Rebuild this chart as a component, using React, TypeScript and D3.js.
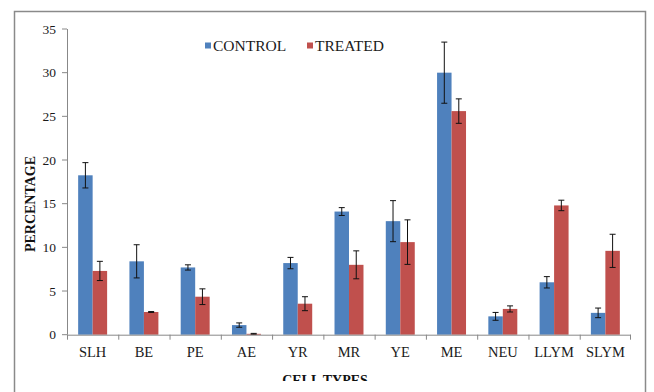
import React from "react";
import * as d3 from "d3";

const categories = ["SLH", "BE", "PE", "AE", "YR", "MR", "YE", "ME", "NEU", "LLYM", "SLYM"];
const seriesNames = ["CONTROL", "TREATED"];
const controlValues = [18.25, 8.4, 7.7, 1.1, 8.2, 14.1, 13.0, 30.0, 2.1, 6.0, 2.5];
const controlErrors = [1.45, 1.9, 0.3, 0.25, 0.65, 0.45, 2.35, 3.5, 0.45, 0.65, 0.55];
const treatedValues = [7.3, 2.6, 4.35, 0.1, 3.55, 8.0, 10.6, 25.6, 2.95, 14.8, 9.6];
const treatedErrors = [1.1, 0.05, 0.9, 0.05, 0.8, 1.6, 2.55, 1.4, 0.35, 0.6, 1.9];
const yTicks = [0, 5, 10, 15, 20, 25, 30, 35];
const colors = ["#4F81BD", "#C0504D"];

export default function App() {
  const W = 654, H = 392;
  const left = 67, right = 631, top = 29, bottom = 334.7;
  const x0 = d3.scaleBand<string>().domain(categories).range([left, right]).padding(0);
  const x1 = d3.scaleBand<string>().domain(seriesNames).range([0, x0.bandwidth()]).paddingInner(0).paddingOuter(0.77);
  const y = d3.scaleLinear().domain([0, 35]).range([bottom, top]);
  const font = "'Liberation Serif', 'Times New Roman', serif";
  const series = [
    { name: seriesNames[0], values: controlValues, errors: controlErrors, color: colors[0] },
    { name: seriesNames[1], values: treatedValues, errors: treatedErrors, color: colors[1] },
  ];
  const axisColor = "#888";
  return (
    <svg width={W} height={H} style={{ position: "absolute", left: 0, top: 0, background: "#fff" }}>
      <defs>
        <clipPath id="clipBottom">
          <rect x={0} y={0} width={W} height={381} />
        </clipPath>
      </defs>
      <rect x={0} y={0} width={W} height={H} fill="#fff" />
      <path d={`M14.5,${H} V11.5 H645.5 V${H}`} fill="none" stroke="#8a8a8a" strokeWidth={1.5} />
      {/* y axis */}
      <line x1={left + 0.5} x2={left + 0.5} y1={top} y2={bottom} stroke={axisColor} />
      {yTicks.map((t) => (
        <g key={t}>
          <line x1={left - 5} x2={left} y1={y(t)} y2={y(t)} stroke={axisColor} />
          <text x={56} y={y(t)} dy="0.35em" textAnchor="end" fontFamily={font} fontSize={13.5} fill="#1a1a1a">
            {t}
          </text>
        </g>
      ))}
      {/* bars */}
      {series.map((s) =>
        categories.map((c, i) => {
          const bx = (x0(c) as number) + (x1(s.name) as number);
          const bw = x1.bandwidth();
          const v = s.values[i];
          const e = s.errors[i];
          const cx = bx + bw / 2;
          return (
            <g key={s.name + c}>
              <rect x={bx} y={y(v)} width={bw} height={y(0) - y(v)} fill={s.color} />
              <line x1={cx} x2={cx} y1={y(v + e)} y2={y(Math.max(0, v - e))} stroke="#111" strokeWidth={1} />
              <line x1={cx - 3} x2={cx + 3} y1={y(v + e)} y2={y(v + e)} stroke="#111" strokeWidth={1} />
              <line x1={cx - 3} x2={cx + 3} y1={y(Math.max(0, v - e))} y2={y(Math.max(0, v - e))} stroke="#111" strokeWidth={1} />
            </g>
          );
        })
      )}
      {/* x axis */}
      <line x1={left} x2={right} y1={bottom + 0.5} y2={bottom + 0.5} stroke={axisColor} />
      {categories.map((c) => (
        <line key={"t" + c} x1={(x0(c) as number) + 0.5} x2={(x0(c) as number) + 0.5} y1={bottom} y2={bottom + 5} stroke={axisColor} />
      ))}
      <line x1={right - 0.5} x2={right - 0.5} y1={bottom} y2={bottom + 5} stroke={axisColor} />
      {categories.map((c) => (
        <text key={"l" + c} x={(x0(c) as number) + x0.bandwidth() / 2} y={356.5} textAnchor="middle" fontFamily={font} fontSize={14.5} fill="#1a1a1a">
          {c}
        </text>
      ))}
      {/* axis titles */}
      <text
        transform={`translate(35,204) rotate(-90)`}
        textAnchor="middle"
        fontFamily={font}
        fontSize={14}
        fontWeight="bold"
        fill="#111"
      >
        PERCENTAGE
      </text>
      <g clipPath="url(#clipBottom)">
        <text x={325} y={385} textAnchor="middle" fontFamily={font} fontSize={14} fontWeight="bold" fill="#111">
          CELL TYPES
        </text>
      </g>
      {/* legend */}
      {series.map((s, i) => {
        const lx = i === 0 ? 205 : 307;
        return (
          <g key={"lg" + s.name}>
            <rect x={lx} y={42.5} width={6} height={6} fill={s.color} />
            <text x={lx + 8} y={51} fontFamily={font} fontSize={15.5} fill="#1a1a1a">
              {s.name}
            </text>
          </g>
        );
      })}
    </svg>
  );
}
